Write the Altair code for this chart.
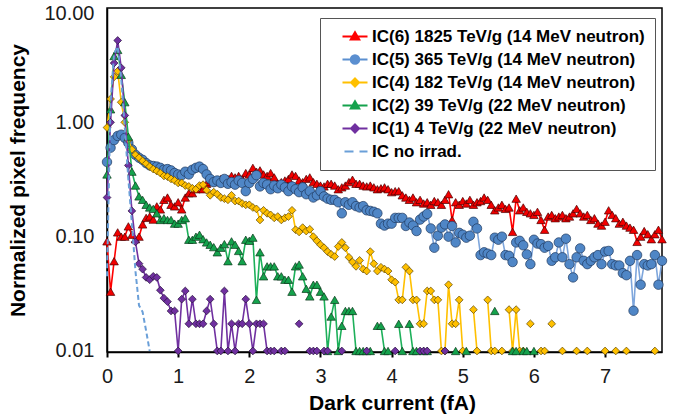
import altair as alt
import pandas as pd

X_STEP = 0.05  # bin width of the dark-current histogram (fA)

NAMES = [
    "IC(6) 1825 TeV/g (14 MeV neutron)",
    "IC(5) 365 TeV/g (14 MeV neutron)",
    "IC(4) 182 TeV/g (14 MeV neutron)",
    "IC(2) 39 TeV/g (22 MeV neutron)",
    "IC(1) 4 TeV/g (22 MeV neutron)",
    "IC no irrad.",
]

# Normalized pixel frequency per 0.05 fA bin (None = empty bin, not plotted)
IC6 = [
    0.091, 0.033, 0.061, 0.109, 0.100, 0.100, 0.123, 0.104, 0.095, 0.100,
    0.128, 0.146, 0.150, 0.141, 0.184, 0.173, 0.210, 0.220, 0.190, 0.184,
    0.200, 0.173, 0.220, 0.240, 0.240, 0.260, 0.275, 0.260, 0.290, 0.300,
    0.310, 0.300, 0.320, 0.310, 0.320, 0.340, 0.330, 0.340, 0.320, 0.360,
    0.350, 0.400, 0.370, 0.380, 0.350, 0.340, 0.360, 0.330, 0.290, 0.300,
    0.310, 0.320, 0.350, 0.340, 0.310, 0.300, 0.320, 0.330, 0.300, 0.290,
    0.280, 0.275, 0.290, 0.290, 0.280, 0.260, 0.270, 0.280, 0.300, 0.315,
    0.290, 0.290, 0.280, 0.275, 0.280, 0.270, 0.260, 0.265, 0.270, 0.260,
    0.245, 0.250, 0.250, 0.230, 0.220, 0.210, 0.220, 0.200, 0.210, 0.195,
    0.200, 0.190, 0.205, 0.200, 0.190, 0.210, 0.235, 0.140, 0.200, 0.190,
    0.205, 0.195, 0.210, 0.190, 0.200, 0.205, 0.220, 0.210, 0.190, 0.170,
    0.180, 0.190, 0.175, 0.180, 0.110, 0.215, 0.170, 0.180, 0.165, 0.160,
    0.155, 0.165, 0.140, 0.115, 0.150, 0.155, 0.145, 0.150, 0.155, 0.145,
    0.150, 0.160, 0.175, 0.160, 0.150, 0.155, 0.140, 0.145, 0.130, 0.125,
    0.135, 0.170, 0.155, 0.145, 0.130, 0.135, 0.125, 0.120, 0.115, 0.090,
    0.100, 0.112, 0.105, 0.095, 0.105, 0.115, 0.095,
]
IC5 = [
    0.45, 0.60, 0.70, 0.76, 0.78, 0.73, 0.66, 0.58, 0.52, 0.49,
    0.47, 0.44, 0.42, 0.415, 0.41, 0.40, 0.385, 0.39, 0.38, 0.36,
    0.35, 0.345, 0.37, 0.35, 0.385, 0.40, 0.41, 0.39, 0.35, 0.32,
    0.30, 0.31, 0.295, 0.32, 0.29, 0.30, 0.285, 0.31, 0.295, 0.25,
    0.295, 0.32, 0.345, 0.275, 0.295, 0.285, 0.26, 0.28, 0.265, 0.285,
    0.27, 0.25, 0.275, 0.26, 0.245, 0.27, 0.235, 0.25, 0.22, 0.23,
    0.25, 0.225, 0.215, 0.21, 0.21, 0.20, 0.16, 0.20, 0.19, 0.20,
    0.185, 0.18, 0.185, 0.17, 0.168, 0.165, 0.16, 0.13, 0.125, 0.13,
    0.13, 0.146, 0.146, 0.146, 0.124, 0.133, 0.125, 0.112, 0.141, 0.150,
    0.158, 0.118, 0.080, 0.102, 0.12, 0.128, 0.100, 0.124, 0.089, 0.108,
    0.104, 0.098, 0.102, 0.135, 0.118, 0.069, 0.073, 0.071, 0.069, 0.098,
    0.094, 0.100, 0.069, 0.068, 0.060, 0.089, 0.092, 0.084, 0.070, 0.0575,
    0.094, 0.087, 0.086, 0.080, 0.083, 0.0615, 0.066, 0.089, 0.066, 0.096,
    0.0575, 0.044, 0.066, 0.079, 0.0615, 0.0575, 0.0615, 0.066, 0.069, 0.0575,
    0.074, 0.075, 0.0575, 0.056, 0.056, 0.048, 0.046, 0.0615, 0.0225, 0.069,
    0.038, 0.0575, 0.056, 0.0575, 0.069, 0.038, 0.0615,
]
IC4 = [
    0.90, 1.60, 2.50, 2.80, 1.50, 1.00, 0.70, 0.58, 0.52, 0.49,
    0.46, 0.435, 0.41, 0.39, 0.375, 0.36, 0.34, 0.335, 0.32, 0.31,
    0.295, 0.295, 0.28, 0.275, 0.265, 0.26, 0.28, 0.285, 0.255, 0.23,
    0.245, 0.235, 0.22, 0.215, 0.21, 0.23, 0.205, 0.205, 0.195, 0.19,
    0.19, 0.18, 0.175, 0.14, 0.17, 0.16, 0.155, 0.146, 0.15, 0.14,
    0.146, 0.15, 0.17, 0.115, 0.11, 0.12, 0.112, 0.116, 0.10, 0.092,
    0.085, 0.08, 0.074, 0.07, 0.067, 0.082, 0.089, 0.08, 0.066, 0.06,
    0.055, 0.062, 0.052, 0.05, 0.074, 0.058, 0.05, 0.054, 0.052, 0.05,
    0.042, 0.04, 0.028, 0.028, 0.054, 0.05, 0.028, 0.028, 0.0173, 0.0173,
    0.0335, 0.0335, 0.028, 0.028, 0.01, 0.01, 0.038, 0.0173, 0.0173, 0.028,
    0.01, None, None, 0.023, 0.01, None, None, 0.028, 0.01, 0.01,
    None, 0.01, None, 0.023, 0.01, 0.023, 0.01, 0.01, None, 0.0173,
    None, None, 0.01, 0.01, None, 0.0173, None, None, 0.01, None,
    None, None, 0.01, None, None, 0.01, None, None, None, None,
    0.01, None, None, 0.01, None, None, 0.01, None, None, None,
    None, None, None, None, 0.01,
]
IC2 = [
    0.35, 1.30, 3.80, 4.30, 2.60, 1.50, 0.75, 0.37, 0.28, 0.225,
    0.21, 0.19, 0.18, 0.175, 0.16, 0.14, 0.145, 0.14, 0.14, 0.13,
    0.13, 0.14, 0.145, 0.094, 0.094, 0.10, 0.104, 0.095, 0.089, 0.085,
    0.081, 0.073, 0.08, 0.086, 0.061, 0.091, 0.085, 0.075, 0.061, 0.094,
    0.092, 0.098, 0.028, 0.073, 0.045, 0.055, 0.055, 0.055, 0.045, 0.045,
    0.042, 0.042, 0.033, 0.055, 0.057, 0.045, 0.035, 0.03, 0.038, 0.038,
    0.033, 0.03, 0.01, 0.02, 0.028, 0.01, 0.0166, 0.0224, 0.0224, 0.0224,
    0.01, 0.01, 0.01, 0.01, 0.01, None, 0.0166, 0.0166, 0.01, 0.01,
    None, None, 0.0173, 0.01, None, 0.0173, 0.01, 0.01, None, 0.01,
    0.01, None, None, None, None, None, None, None, 0.01, None,
    None, 0.01, None, None, None, None, None, None, None, 0.0224,
    None, None, None, None, 0.01, 0.01, None, 0.01, 0.01, None,
    0.01,
]
IC1 = [
    0.22, 1.00, 3.30, 5.20, 3.00, 1.15, 0.42, 0.168, 0.09, 0.058,
    0.052, 0.044, 0.042, 0.045, 0.044, 0.034, 0.029, 0.027, 0.0224, 0.0224,
    0.01, 0.0284, 0.0335, 0.0173, 0.0284, 0.0173, 0.0173, 0.0173, 0.0224, 0.0284,
    0.0173, 0.01, 0.01, 0.0335, 0.01, 0.0173, 0.01, 0.0173, 0.0173, 0.0284,
    0.0173, 0.01, 0.0173, 0.0173, 0.0173, 0.01, 0.01, 0.01, None, 0.01,
    0.01, None, None, None, 0.0173, None, None, 0.01, 0.01, 0.01,
    None, 0.01, 0.01, None, None, None, 0.01, None, None, None,
    None, None, None, 0.01, None, None, None, None, None, None,
    None, 0.01, None, None, None, None, None, None, 0.01, 0.01,
    0.01, None, None, None, None, 0.01,
]
NO_IRRAD = [0.045, 1.5, 4.0, 4.6, 2.4, 0.9, 0.32, 0.13, 0.05, 0.025, 0.022, 0.015, 0.01]

SERIES = [IC6, IC5, IC4, IC2, IC1, NO_IRRAD]
LINE_COLORS = ["#FF0000", "#7EA6DC", "#FFC000", "#1DB05A", "#7030A0", "#6A9FD8"]
FILL_COLORS = ["#F20000", "#4F86C6", "#FFC000", "#14A24C", "#7030A0"]
EDGE_COLORS = ["#4a0000", "#1f3a5f", "#5a4400", "#0b3a1b", "#24103a"]
SHAPES = ["triangle-up", "circle", "diamond", "triangle-up", "diamond"]
SIZES = [72, 90, 60, 72, 60]
LEGEND_COLORS = ["#FF0000", "#5B8FD0", "#FFC000", "#14A24C", "#7030A0", "#6A9FD8"]

# legend glyphs: a short line with the series marker in its middle
LEG_LINE = "M0.8,0H5.8"
LEGEND_PATHS = [
    LEG_LINE + "M3.3,-0.85L4.15,0.6L2.45,0.6Z",
    LEG_LINE + "M4.15,0A0.85,0.85 0 1,1 2.45,0A0.85,0.85 0 1,1 4.15,0Z",
    LEG_LINE + "M3.3,-0.8L4.1,0L3.3,0.8L2.5,0Z",
    LEG_LINE + "M3.3,-0.85L4.15,0.6L2.45,0.6Z",
    LEG_LINE + "M3.3,-0.8L4.1,0L3.3,0.8L2.5,0Z",
    "M1.2,0H3.0M4.2,0H5.8",
]

FONT = "Liberation Sans"


def to_frame(name, vals):
    rows = []
    seg = 0
    for i, v in enumerate(vals):
        if v is None:
            seg += 1
            continue
        rows.append({"series": name, "x": round(i * X_STEP, 2), "y": v, "seg": seg})
    return pd.DataFrame(rows)


x_axis = alt.Axis(
    values=[0, 1, 2, 3, 4, 5, 6, 7], format="d", grid=False,
    labelFont=FONT, labelFontSize=20, labelColor="#1a1a1a", labelPadding=9, labelFlush=False,
    tickSize=5, tickWidth=2, tickColor="black", domainColor="black", domainWidth=1.5,
    title="Dark current (fA)", titleFont=FONT, titleFontSize=21, titleFontWeight="bold",
    titleColor="black", titleX=285, titleY=51, titleAlign="center", titleBaseline="middle",
)
y_axis = alt.Axis(
    values=[0.01, 0.1, 1, 10], format=".2f", grid=False, ticks=False,
    labelFont=FONT, labelFontSize=20, labelColor="#1a1a1a", labelPadding=13,
    labelFlush=0.5, labelFlushOffset=5,
    domainColor="black", domainWidth=1.5,
    title="Normalized pixel frequency", titleFont=FONT, titleFontSize=21, titleFontWeight="bold",
    titleColor="black", titleX=-89, titleY=172, titleAngle=-90, titleAlign="center",
    titleBaseline="middle",
)
x_enc = alt.X("x:Q", scale=alt.Scale(domain=[0, 7.8], nice=False, zero=False), axis=x_axis)
y_enc = alt.Y("y:Q", scale=alt.Scale(type="log", domain=[0.0098, 10], nice=False), axis=y_axis)

layers = []
for k in range(5):
    d = to_frame(NAMES[k], SERIES[k])
    base = alt.Chart(d)
    layers.append(
        base.mark_line(color=LINE_COLORS[k], strokeWidth=1.6).encode(x=x_enc, y=y_enc, detail="seg:N")
    )
    layers.append(
        base.mark_point(
            shape=SHAPES[k], filled=True, fill=FILL_COLORS[k], stroke=EDGE_COLORS[k],
            strokeWidth=0.7, size=SIZES[k], opacity=1,
        ).encode(x=x_enc, y=y_enc)
    )

d_no = to_frame(NAMES[5], NO_IRRAD)
layers.append(
    alt.Chart(d_no).mark_line(color=LINE_COLORS[5], strokeWidth=2, strokeDash=[5, 3]).encode(
        x=x_enc, y=y_enc, detail="seg:N"
    )
)

leg = alt.Legend(
    title=None, orient="none", legendX=213, legendY=10,
    labelFont=FONT, labelFontSize=17, labelFontWeight="bold", labelColor="black", labelLimit=500,
    labelOffset=25, symbolSize=100, symbolStrokeWidth=2, symbolOpacity=1, rowPadding=5,
    padding=10, strokeColor="#555555", fillColor="white",
)
leg_df = pd.DataFrame({"series": NAMES, "x": [1.0] * len(NAMES), "y": [1.0] * len(NAMES)})
legend_layer = alt.Chart(leg_df).mark_point(opacity=0).encode(
    x=x_enc, y=y_enc,
    fill=alt.Fill("series:N", scale=alt.Scale(domain=NAMES, range=LEGEND_COLORS), legend=leg),
    stroke=alt.Stroke("series:N", scale=alt.Scale(domain=NAMES, range=LEGEND_COLORS), legend=leg),
    shape=alt.Shape("series:N", scale=alt.Scale(domain=NAMES, range=LEGEND_PATHS), legend=leg),
)
layers.append(legend_layer)

chart = alt.layer(*layers).properties(
    width=555, height=344,
    padding={"left": 107, "top": 8, "right": 20, "bottom": 63},
    autosize=alt.AutoSizeParams(type="none"),
    background="white",
).configure_view(stroke="black", strokeWidth=1.5)

chart.save("out.html", embed_options={"renderer": "svg", "actions": False})
